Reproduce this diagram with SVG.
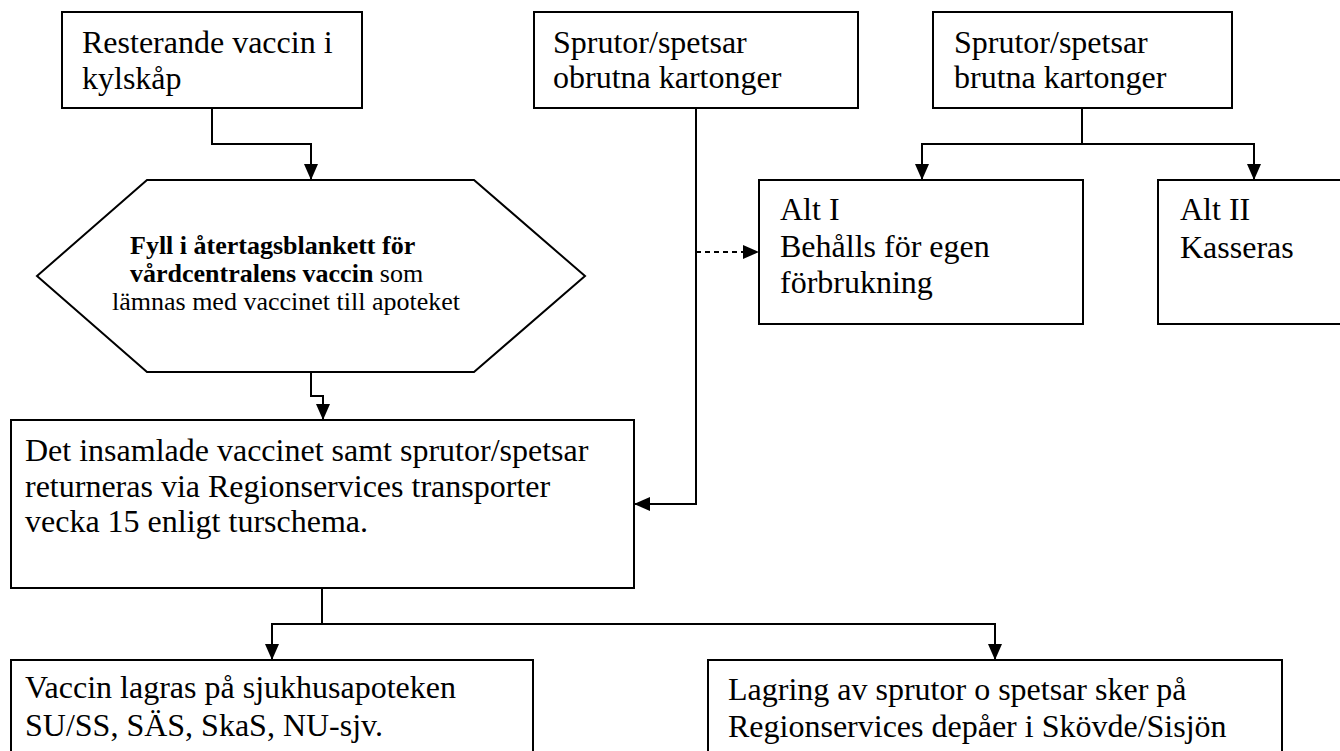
<svg xmlns="http://www.w3.org/2000/svg" width="1340" height="751" viewBox="0 0 1340 751">
<style>
.box{fill:#fff;stroke:#000;stroke-width:2}
.t{font-family:"Liberation Serif","Times New Roman",serif;font-size:32px;fill:#000}
.h{font-family:"Liberation Serif","Times New Roman",serif;font-size:26px;fill:#000}
.b{font-weight:bold}
.c{fill:none;stroke:#000;stroke-width:2}
.d{stroke-dasharray:5,4}
</style>
<defs>
<marker id="arr" viewBox="0 0 16 14" refX="16" refY="7" markerWidth="16" markerHeight="14" markerUnits="userSpaceOnUse" orient="auto">
<path d="M0,0 L16,7 L0,14 z" fill="#000"/>
</marker>
</defs>
<rect width="1340" height="751" fill="#fff"/>
<g id="connectors">
<path class="c" d="M212,108 V144 H311 V180" marker-end="url(#arr)"/>
<path class="c" d="M311,372 V396 H323 V420" marker-end="url(#arr)"/>
<path class="c" d="M696,108 V504 H634" marker-end="url(#arr)"/>
<path class="c d" d="M696,252 H759" marker-end="url(#arr)"/>
<path class="c" d="M1082,108 V144"/>
<path class="c" d="M1082,144 H922 V180" marker-end="url(#arr)"/>
<path class="c" d="M1082,144 H1254 V180" marker-end="url(#arr)"/>
<path class="c" d="M322,588 V624"/>
<path class="c" d="M322,624 H272 V660" marker-end="url(#arr)"/>
<path class="c" d="M322,624 H995 V660" marker-end="url(#arr)"/>
</g>
<g id="n1">
<rect class="box" x="62" y="12" width="300" height="96"/>
<text class="t" x="82" y="53">Resterande vaccin i</text>
<text class="t" x="82" y="89">kylskåp</text>
</g>
<g id="n2">
<rect class="box" x="534" y="12" width="324" height="96"/>
<text class="t" x="553" y="53">Sprutor/spetsar</text>
<text class="t" x="553" y="88">obrutna kartonger</text>
</g>
<g id="n3">
<rect class="box" x="933" y="12" width="299" height="96"/>
<text class="t" x="954" y="53">Sprutor/spetsar</text>
<text class="t" x="954" y="88">brutna kartonger</text>
</g>
<g id="n4">
<polygon class="box" points="147,180 474,180 585,276 474,372 147,372 37,276"/>
<text class="h" x="130" y="254"><tspan class="b">Fyll i återtagsblankett för</tspan></text>
<text class="h" x="130" y="282"><tspan class="b">vårdcentralens vaccin</tspan> som</text>
<text class="h" x="112" y="310">lämnas med vaccinet till apoteket</text>
</g>
<g id="n5">
<rect class="box" x="759" y="180" width="324" height="144"/>
<text class="t" x="780" y="220">Alt I</text>
<text class="t" x="780" y="257">Behålls för egen</text>
<text class="t" x="780" y="293">förbrukning</text>
</g>
<g id="n6">
<rect class="box" x="1158" y="180" width="192" height="144"/>
<text class="t" x="1180" y="220">Alt II</text>
<text class="t" x="1180" y="258">Kasseras</text>
</g>
<g id="n7">
<rect class="box" x="11" y="420" width="623" height="168"/>
<text class="t" x="25" y="461">Det insamlade vaccinet samt sprutor/spetsar</text>
<text class="t" x="25" y="497">returneras via Regionservices transporter</text>
<text class="t" x="25" y="532">vecka 15 enligt turschema.</text>
</g>
<g id="n8">
<rect class="box" x="11" y="660" width="522" height="140"/>
<text class="t" x="25" y="698">Vaccin lagras på sjukhusapoteken</text>
<text class="t" x="25" y="736">SU/SS, SÄS, SkaS, NU-sjv.</text>
</g>
<g id="n9">
<rect class="box" x="708" y="660" width="574" height="140"/>
<text class="t" x="728" y="700">Lagring av sprutor o spetsar sker på</text>
<text class="t" x="728" y="737">Regionservices depåer i Skövde/Sisjön</text>
</g>
</svg>
